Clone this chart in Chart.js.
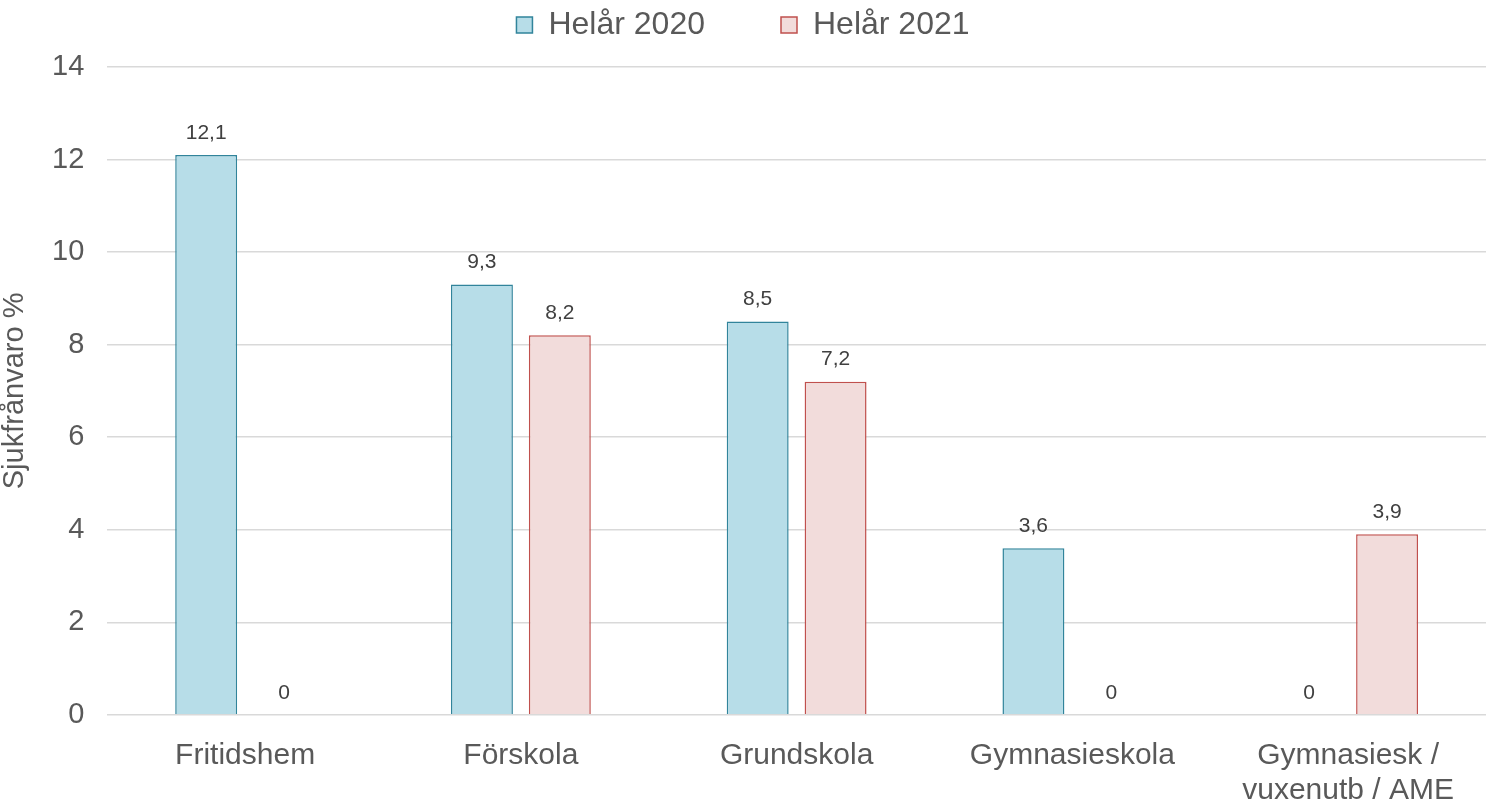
<!DOCTYPE html>
<html>
<head>
<meta charset="utf-8">
<script src="https://cdn.jsdelivr.net/npm/chart.js@4/dist/chart.umd.min.js"></script>
<style>
  html, body { margin: 0; padding: 0; background: #fff; }
  #wrap { width: 1486px; height: 804px; }
</style>
</head>
<body>
<div id="wrap"><canvas id="myChart"></canvas></div>
<script>
const categories = ['Fritidshem', 'Förskola', 'Grundskola', 'Gymnasieskola', ['Gymnasiesk /', 'vuxenutb / AME']];
const values2020 = [12.1, 9.3, 8.5, 3.6, 0];
const values2021 = [0, 8.2, 7.2, 0, 3.9];
const yTicks = [0, 2, 4, 6, 8, 10, 12, 14];

const FONT = '"Liberation Sans", Arial, sans-serif';

// etiketter ovanför staplarna
const valueLabels = {
    id: 'valueLabels',
    afterDatasetsDraw(chart) {
        const ctx = chart.ctx;
        ctx.save();
        ctx.font = '21px ' + FONT;
        ctx.fillStyle = '#404040';
        ctx.textAlign = 'center';
        ctx.textBaseline = 'middle';
        chart.data.datasets.forEach((ds, i) => {
            chart.getDatasetMeta(i).data.forEach((bar, j) => {
                const txt = String(ds.data[j]).replace('.', ',');
                ctx.fillText(txt, bar.x, bar.y - 22);
            });
        });
        ctx.restore();
    }
};

const ctx = document.getElementById('myChart').getContext('2d');
new Chart(ctx, {
    type: 'bar',
    data: {
        labels: categories,
        datasets: [{
            label: 'Helår 2020',
            data: values2020,
            backgroundColor: '#b7dde8',
            borderColor: '#31849b',
            borderWidth: 1.5,
            categoryPercentage: 0.565,
            barPercentage: 0.795
        }, {
            label: 'Helår 2021',
            data: values2021,
            backgroundColor: '#f2dcdb',
            borderColor: '#c0504d',
            borderWidth: 1.5,
            categoryPercentage: 0.565,
            barPercentage: 0.795
        }]
    },
    options: {
        responsive: true,
        maintainAspectRatio: false,
        animation: false,
        layout: { padding: { left: 0, right: 0, top: -67, bottom: -27 } },
        plugins: {
            legend: {
                position: 'top',
                labels: {
                    boxWidth: 16,
                    boxHeight: 16,
                    padding: 76,
                    color: '#595959',
                    font: { family: FONT, size: 32 }
                }
            },
            // tom titel som mellanrum under legenden
            title: {
                display: true,
                text: '',
                weight: 500,
                padding: 0,
                font: { size: 16, lineHeight: 1 }
            },
            tooltip: { enabled: false }
        },
        scales: {
            x: {
                grid: { display: false, drawTicks: false },
                border: { display: false },
                ticks: {
                    color: '#595959',
                    padding: 23,
                    maxRotation: 0,
                    autoSkip: false,
                    font: { family: FONT, size: 30, lineHeight: 1.17 }
                }
            },
            y: {
                min: 0,
                max: 14,
                afterBuildTicks(axis) {
                    axis.ticks = yTicks.map(v => ({ value: v }));
                },
                grid: { color: '#d9d9d9', lineWidth: 1.5, drawTicks: false },
                border: { display: false },
                ticks: {
                    color: '#595959',
                    padding: 23,
                    font: { family: FONT, size: 29 }
                },
                title: {
                    display: true,
                    text: 'Sjukfrånvaro %',
                    color: '#595959',
                    padding: { top: 0, bottom: 0 },
                    font: { family: FONT, size: 29, lineHeight: 1.0 }
                }
            }
        }
    },
    plugins: [valueLabels]
});
</script>
</body>
</html>
